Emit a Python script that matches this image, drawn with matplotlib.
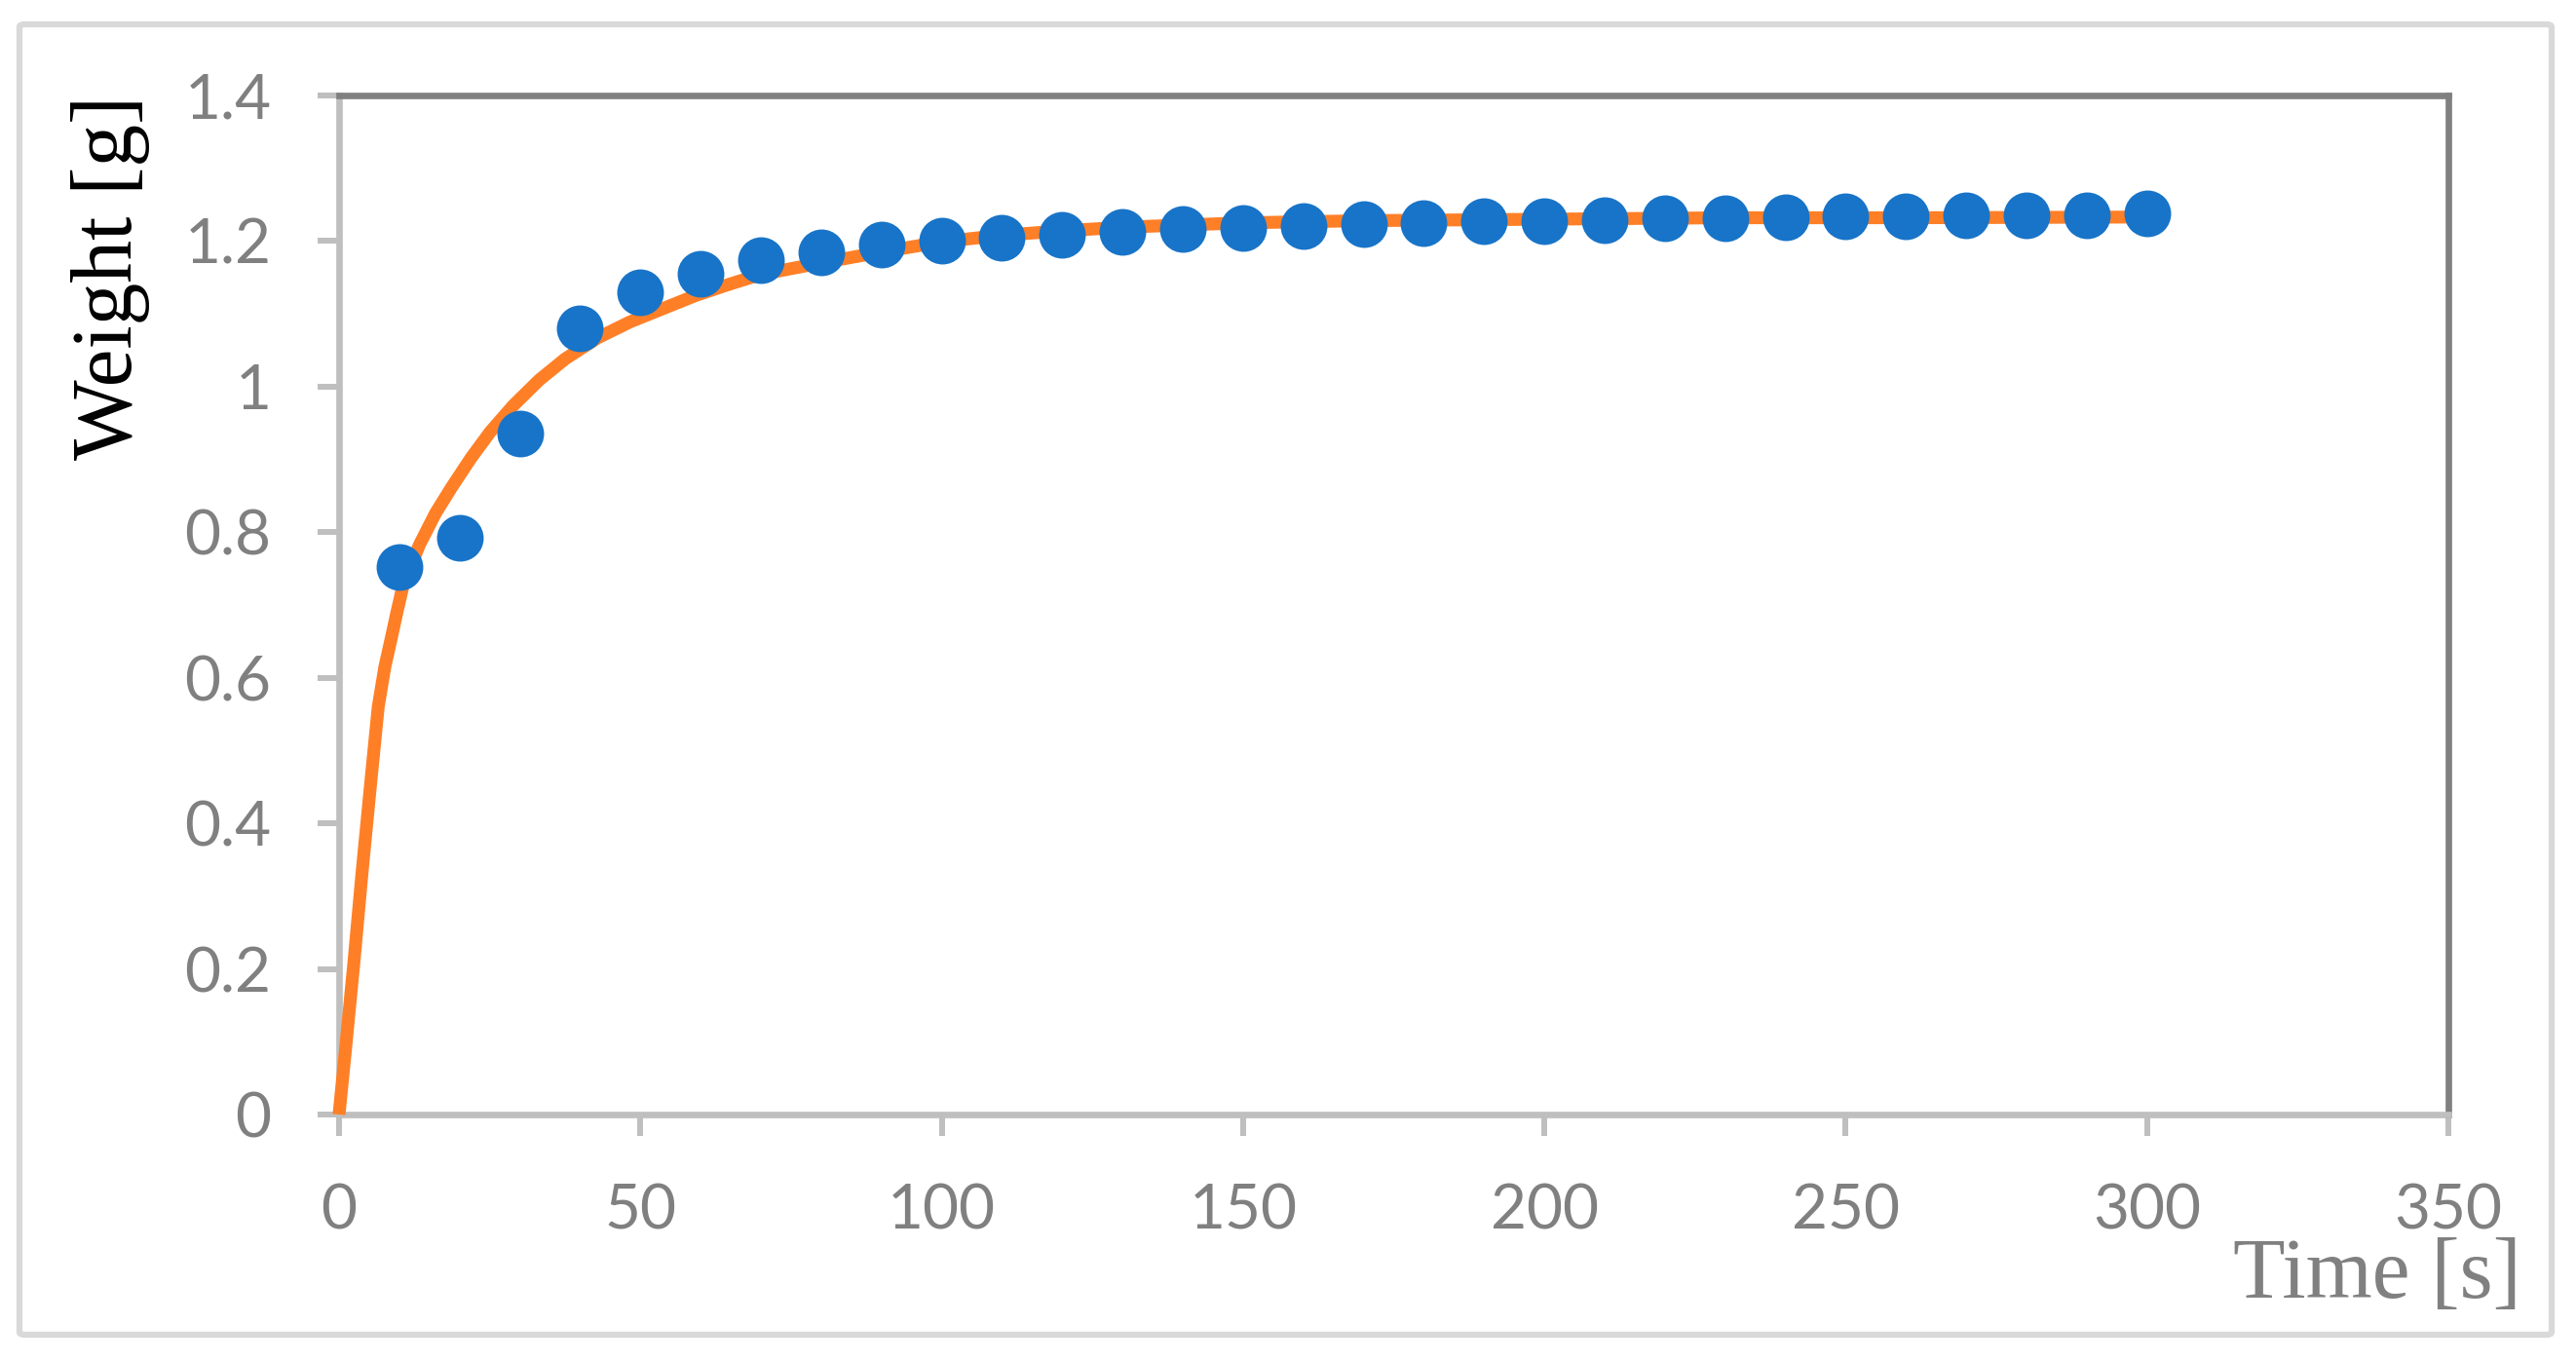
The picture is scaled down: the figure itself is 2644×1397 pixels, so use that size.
import matplotlib
matplotlib.use("Agg")
import matplotlib.pyplot as plt
from matplotlib.ticker import FuncFormatter
from matplotlib.patches import FancyBboxPatch

# Measured data points (blue markers)
time_s = [10, 20, 30, 40, 50, 60, 70, 80, 90, 100, 110, 120, 130, 140, 150,
          160, 170, 180, 190, 200, 210, 220, 230, 240, 250, 260, 270, 280, 290, 300]
weight_g = [0.752, 0.792, 0.935, 1.080, 1.129, 1.155, 1.174, 1.185, 1.195, 1.200,
            1.205, 1.209, 1.212, 1.216, 1.218, 1.220, 1.223, 1.225, 1.227, 1.228,
            1.229, 1.231, 1.232, 1.233, 1.234, 1.234, 1.235, 1.236, 1.236, 1.238]

# Fitted model curve (orange line)
fit_time = [0, 1.1, 2.5, 3.8, 5.2, 6.5, 7.6, 8.6, 9.6, 10.6, 13.3, 16.0, 18.7, 21.9,
            25.1, 28.9, 33.2, 37.5, 42.9, 48.3, 53.7, 59.1, 64.5, 69.9, 80, 90, 100,
            110, 120, 130, 140, 150, 170, 200, 230, 260, 300]
fit_weight = [0.0, 0.092, 0.212, 0.331, 0.451, 0.560, 0.615, 0.652, 0.690, 0.726,
              0.782, 0.826, 0.862, 0.902, 0.938, 0.974, 1.009, 1.038, 1.067, 1.089,
              1.107, 1.125, 1.140, 1.154, 1.170, 1.185, 1.199, 1.208, 1.214, 1.219,
              1.222, 1.225, 1.228, 1.230, 1.232, 1.232, 1.233]

x_ticks = [0, 50, 100, 150, 200, 250, 300, 350]
y_ticks = [0, 0.2, 0.4, 0.6, 0.8, 1.0, 1.2, 1.4]

W, H, DPI = 2644, 1397, 100
fig = plt.figure(figsize=(W / DPI, H / DPI), dpi=DPI)
fig.patch.set_facecolor("white")

# outer light border
border = FancyBboxPatch((20 / W, 1 - 1370 / H), (2619 - 20) / W, (1370 - 25) / H,
                        boxstyle="round,pad=0,rounding_size=0.002",
                        transform=fig.transFigure, facecolor="none",
                        edgecolor="#D9D9D9", linewidth=4.5, zorder=0)
fig.patches.append(border)

ax = fig.add_axes([348 / W, 1 - 1144 / H, (2513 - 348) / W, (1144 - 98) / H])

ax.plot(fit_time, fit_weight, color="#FF7F27", linewidth=9.5, zorder=3,
        solid_capstyle="butt", solid_joinstyle="round", clip_on=False)
ax.plot(time_s, weight_g, linestyle="none", marker="o", markersize=34.5,
        markerfacecolor="#1874C8", markeredgecolor="#1874C8", markeredgewidth=0,
        zorder=4, clip_on=False)

ax.set_xlim(0, 350)
ax.set_ylim(0, 1.4)
ax.set_xticks(x_ticks)
ax.set_yticks(y_ticks)
ax.yaxis.set_major_formatter(FuncFormatter(lambda v, p: "%g" % v))
ax.xaxis.set_major_formatter(FuncFormatter(lambda v, p: "%g" % v))

light = "#BFBFBF"
dark = "#808080"
for side in ["left", "bottom"]:
    ax.spines[side].set_color(light)
    ax.spines[side].set_linewidth(4.8)
for side in ["top", "right"]:
    ax.spines[side].set_color(dark)
    ax.spines[side].set_linewidth(4.8)

ax.tick_params(axis="both", direction="out", length=16, width=4.3, color=light,
               labelcolor=dark, labelsize=46)
ax.tick_params(axis="y", pad=34)
ax.tick_params(axis="x", pad=35)
for lab in ax.get_xticklabels() + ax.get_yticklabels():
    lab.set_fontfamily("Lato")

fig.text(2588 / W, 1 - 1332 / H, "Time [s]", ha="right", va="baseline",
         fontsize=63, color=dark, family="Liberation Serif")
fig.text(135 / W, 1 - 472 / H, "Weight [g]", rotation=90, rotation_mode="anchor",
         ha="left", va="baseline", fontsize=63, color="black",
         family="Liberation Serif")

fig.savefig("out.png", dpi=DPI, facecolor="white")
